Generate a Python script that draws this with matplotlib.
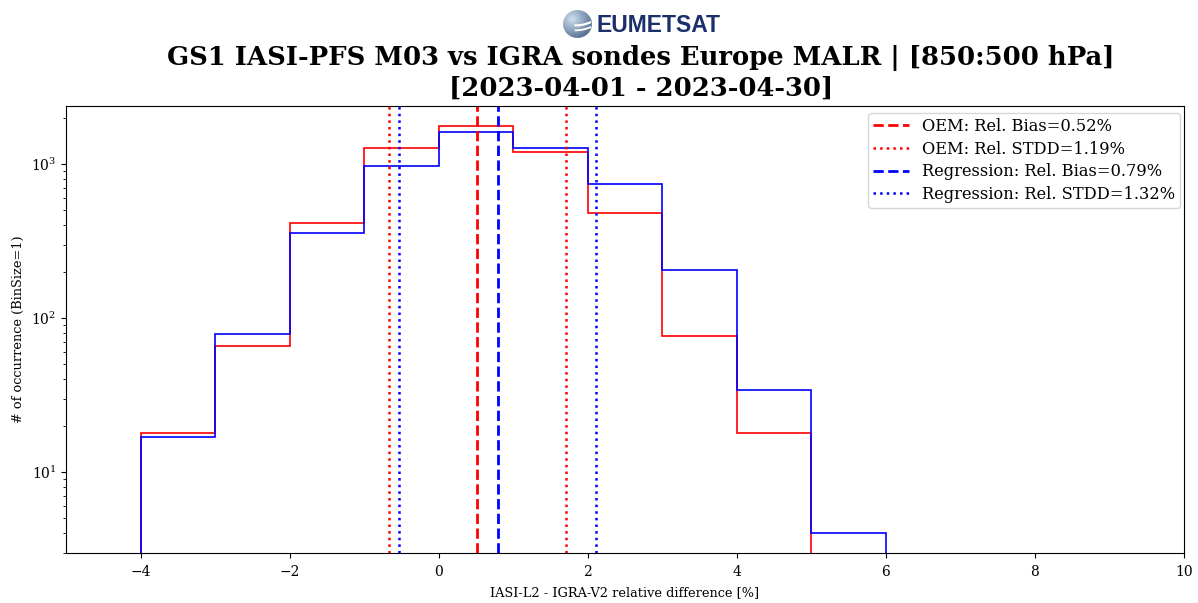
import numpy as np
import matplotlib
matplotlib.use("Agg")
import matplotlib.pyplot as plt

plt.rcParams['font.family'] = ['DejaVu Serif']

# Histogram bin edges (BinSize = 1 %) and counts for each retrieval
oem_edges = [-4, -3, -2, -1, 0, 1, 2, 3, 4, 5]
oem_counts = [18, 66, 414, 1270, 1765, 1195, 480, 76, 18]
reg_edges = [-4, -3, -2, -1, 0, 1, 2, 3, 4, 5, 6]
reg_counts = [17, 79, 356, 970, 1615, 1270, 740, 205, 34, 4]

oem_bias, oem_std = 0.52, 1.19
reg_bias, reg_std = 0.79, 1.32

title_line1 = "GS1 IASI-PFS M03 vs IGRA sondes Europe MALR | [850:500 hPa]"
title_line2 = "[2023-04-01 - 2023-04-30]"

fig = plt.figure(figsize=(11.98, 6.03), dpi=100)
ax = fig.add_axes([0.0551, 0.0829, 0.9332, 0.7413])
ax.set_yscale('log')

oem_centers = 0.5 * (np.array(oem_edges[:-1]) + np.array(oem_edges[1:]))
reg_centers = 0.5 * (np.array(reg_edges[:-1]) + np.array(reg_edges[1:]))
ax.hist(oem_centers, bins=oem_edges, weights=oem_counts, histtype='step',
        color='red', lw=1.2)
ax.hist(reg_centers, bins=reg_edges, weights=reg_counts, histtype='step',
        color='blue', lw=1.2)

ax.axvline(oem_bias, color='red', ls='--', lw=2,
           label=f"OEM: Rel. Bias={oem_bias:.2f}%")
ax.axvline(oem_bias - oem_std, color='red', ls=':', lw=1.8,
           label=f"OEM: Rel. STDD={oem_std:.2f}%")
ax.axvline(oem_bias + oem_std, color='red', ls=':', lw=1.8)
ax.axvline(reg_bias, color='blue', ls='--', lw=2,
           label=f"Regression: Rel. Bias={reg_bias:.2f}%")
ax.axvline(reg_bias - reg_std, color='blue', ls=':', lw=1.8,
           label=f"Regression: Rel. STDD={reg_std:.2f}%")
ax.axvline(reg_bias + reg_std, color='blue', ls=':', lw=1.8)

ax.set_xlim(-5, 10)
ax.set_ylim(2.98, 2380)
ax.set_xticks(np.arange(-4, 11, 2))
ax.tick_params(labelsize=10)
ax.tick_params(axis='x', pad=5)
ax.set_xlabel("IASI-L2 - IGRA-V2 relative difference [%]", fontsize=9.3,
              labelpad=5)
ax.set_ylabel("# of occurrence (BinSize=1)", fontsize=9.3)
ax.legend(loc='upper right', fontsize=11.7, handlelength=2.2,
          labelspacing=0.35, borderpad=0.3, borderaxespad=0,
          bbox_to_anchor=(0.985, 0.8126), bbox_transform=fig.transFigure)

# Title
fig.text(0.535, 0.904, title_line1, ha='center', va='center',
         fontsize=18.6, fontweight='bold')
fig.text(0.535, 0.854, title_line2, ha='center', va='center',
         fontsize=18.6, fontweight='bold')

# Logo: shaded globe and wordmark
lax = fig.add_axes([0.470, 0.937, 0.0234, 0.0464])
lax.set_xlim(-1, 1)
lax.set_ylim(-1, 1)
lax.axis('off')
yy, xx = np.mgrid[-1:1:200j, -1:1:200j]
r = np.sqrt((xx + 0.35) ** 2 + (yy - 0.35) ** 2)
shade = np.clip(1 - r / 1.8, 0, 1)
img = np.zeros((200, 200, 4))
img[..., 0] = 0.22 + 0.60 * shade
img[..., 1] = 0.33 + 0.55 * shade
img[..., 2] = 0.47 + 0.48 * shade
img[..., 3] = (xx ** 2 + yy ** 2 <= 1).astype(float)
lax.imshow(img, extent=[-1, 1, -1, 1], origin='lower', aspect='auto')
for yoff, w in [(-0.1, 1.6), (-0.45, 1.3)]:
    t = np.linspace(-0.1, 1.1, 50)
    lax.plot(t, yoff + 0.2 * (t + 0.1) ** 2, color='white', lw=w)
fig.text(0.4983, 0.9585, "EUMETSAT", ha='left', va='center', fontsize=16.5,
         fontweight='bold', color='#1b2f6b',
         family=['Liberation Sans', 'DejaVu Sans'])

fig.savefig("out.png", dpi=100)
